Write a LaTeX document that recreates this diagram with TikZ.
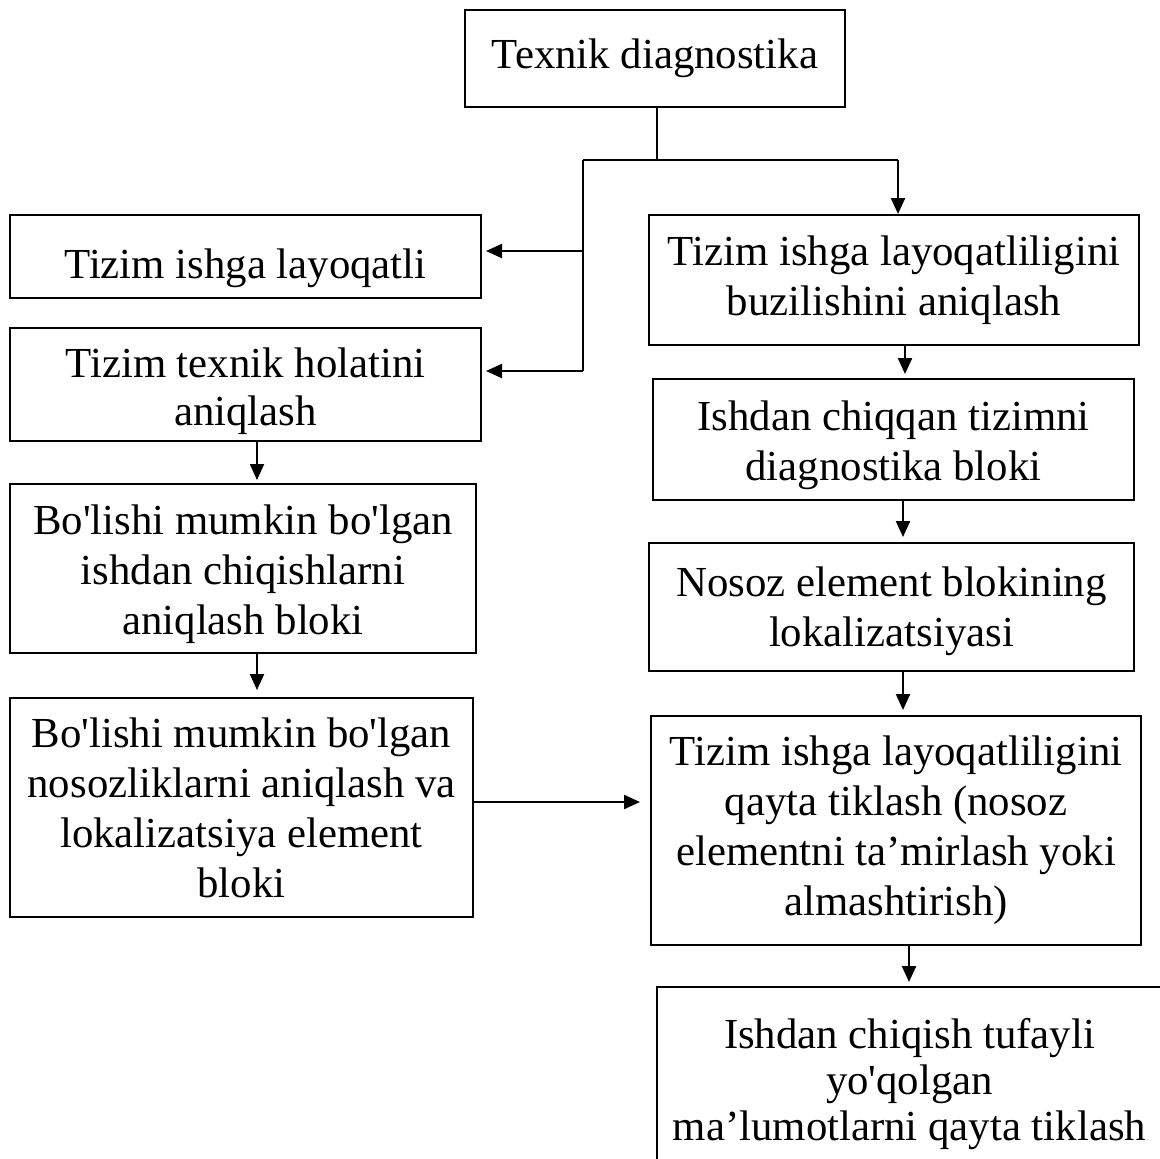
\documentclass[tikz,border=0pt]{standalone}
\usepackage{fontspec}
\setmainfont{Liberation Serif}
\usetikzlibrary{arrows.meta}
\newcommand{\sq}{\textquotesingle}
\begin{document}
\begin{tikzpicture}[x=0.5pt,y=-0.5pt,
  box/.style={draw, line width=1pt, inner sep=0pt},
  txt/.style={inner sep=0pt, align=center, font=\fontsize{21.4}{25}\selectfont},
  tight/.style={font=\fontsize{21.4}{24}\selectfont},
  mid/.style={font=\fontsize{21.4}{23}\selectfont},
  conn/.style={line width=1.1pt},
  arr/.style={line width=1.1pt, -{Triangle[length=8pt,width=7pt]}}]
\useasboundingbox (0,0) rectangle (1160,1158);
\clip (0,0) rectangle (1160,1158);
% boxes
\node[box, minimum width=190pt, minimum height=48.5pt] (top) at (655,58.5) {};
\node[box, minimum width=235.5pt, minimum height=41.5pt] (L1) at (245.5,256.5) {};
\node[box, minimum width=235.5pt, minimum height=56.5pt] (L2) at (245.5,384.5) {};
\node[box, minimum width=233pt, minimum height=84.5pt] (L3) at (243,568.5) {};
\node[box, minimum width=231.5pt, minimum height=109.5pt] (L4) at (241.5,807.5) {};
\node[box, minimum width=245pt, minimum height=65pt] (R1) at (894,280) {};
\node[box, minimum width=240.5pt, minimum height=60.5pt] (R2) at (893.5,439.5) {};
\node[box, minimum width=242.5pt, minimum height=64pt] (R3) at (891.5,607) {};
\node[box, minimum width=245pt, minimum height=114.5pt] (R4) at (896,830.5) {};
\node[box, minimum width=252.5pt, minimum height=91.5pt] (B) at (909.5,1078.5) {};
% texts
\node[txt] (topt) at (655,58.5) {Texnik diagnostika};
\node[txt] (L1t) at (245.5,268.5) {Tizim ishga layoqatli};
\node[txt, tight] (L2t) at (245.5,391.5) {Tizim texnik holatini\\aniqlash};
\node[txt] (L3t) at (243,574.5) {Bo\sq lishi mumkin bo\sq lgan\\ishdan chiqishlarni\\aniqlash bloki};
\node[txt] (L4t) at (241.5,807.5) {Bo\sq lishi mumkin bo\sq lgan\\nosozliklarni aniqlash va\\lokalizatsiya element\\bloki};
\node[txt] (R1t) at (894,280) {Tizim ishga layoqatliligini\\buzilishini aniqlash};
\node[txt] (R2t) at (893.5,445.5) {Ishdan chiqqan tizimni\\diagnostika bloki};
\node[txt] (R3t) at (891.5,611) {Nosoz element blokining\\lokalizatsiyasi};
\node[txt] (R4t) at (896,830.5) {Tizim ishga layoqatliligini\\qayta tiklash (nosoz\\elementni ta’mirlash yoki\\almashtirish)};
\node[txt, mid] (Bt) at (909.5,1084) {Ishdan chiqish tufayli\\yo\sq qolgan\\ma’lumotlarni qayta tiklash};
% junction coordinates
\coordinate (j) at (657,160);
\coordinate (jl) at (583,160);
\coordinate (jr) at (898,160);
\coordinate (t1) at (583,251);
\coordinate (t2) at (583,371);
\coordinate (xa) at (257,0);
\coordinate (xb) at (905,0);
\coordinate (xc) at (903,0);
\coordinate (xd) at (909,0);
\coordinate (yh) at (0,802);
% connectors
\draw[conn] (top.south -| j) -- (j);
\draw[conn] (jl) -- (jr);
\draw[arr] (jr) -- (R1.north -| jr);
\draw[conn] (jl) -- (t2);
\draw[arr, shorten >=2pt] (t1) -- (t1 -| L1.east);
\draw[arr, shorten >=2pt] (t2) -- (t2 -| L2.east);
\draw[arr, shorten >=1.5pt] (L2.south -| xa) -- (L3.north -| xa);
\draw[arr, shorten >=3.5pt] (L3.south -| xa) -- (L4.north -| xa);
\draw[arr, shorten >=5pt] (L4.east |- yh) -- (R4.west |- yh);
\draw[arr, shorten >=2pt] (R1.south -| xb) -- (R2.north -| xb);
\draw[arr, shorten >=2.5pt] (R2.south -| xc) -- (R3.north -| xc);
\draw[arr, shorten >=2.5pt] (R3.south -| xc) -- (R4.north -| xc);
\draw[arr, shorten >=2pt] (R4.south -| xd) -- (B.north -| xd);
\end{tikzpicture}
\end{document}
